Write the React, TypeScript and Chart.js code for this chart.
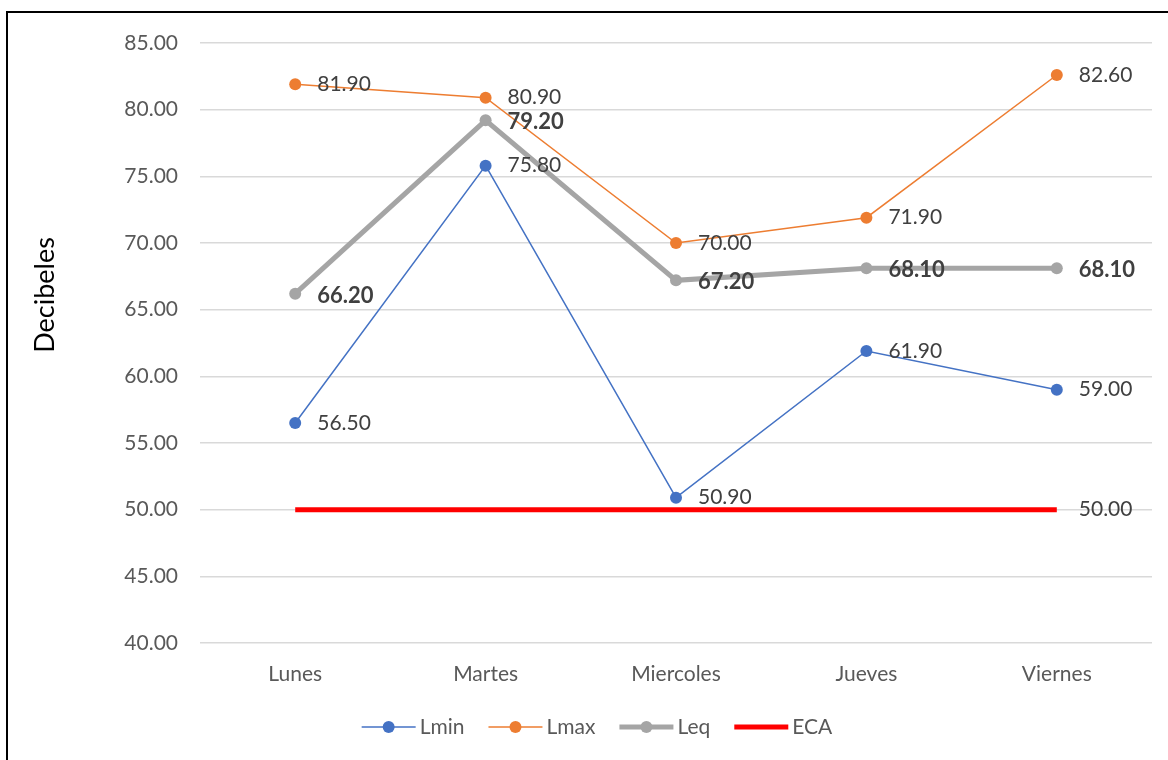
import React, { useEffect, useRef } from "react";
import { Chart, registerables } from "chart.js";

Chart.register(...registerables);

// Days of the week measured
const days = ["Lunes", "Martes", "Miercoles", "Jueves", "Viernes"];

// Sound levels in decibels
const lminValues = [56.5, 75.8, 50.9, 61.9, 59.0];
const lmaxValues = [81.9, 80.9, 70.0, 71.9, 82.6];
const leqValues = [66.2, 79.2, 67.2, 68.1, 68.1];
const ecaValues = [50.0, 50.0, 50.0, 50.0, 50.0];

const yMin = 40;
const yMax = 85;
const yStep = 5;

const FONT = "Lato, 'Open Sans', sans-serif";
const TEXT_GREY = "#595959";
const LABEL_GREY = "#404040";

// Frame around the chart
const framePlugin = {
  id: "frame",
  beforeDraw(chart: any) {
    const { ctx, width, height } = chart;
    ctx.save();
    ctx.fillStyle = "#ffffff";
    ctx.fillRect(0, 0, width, height);
    ctx.fillStyle = "#000000";
    ctx.fillRect(6, 11, 2, height - 11);
    ctx.fillRect(6, 11, width - 6, 2);
    ctx.restore();
  },
};

// Vertical axis title
const axisTitlePlugin = {
  id: "axisTitle",
  afterDraw(chart: any) {
    const { ctx } = chart;
    ctx.save();
    ctx.translate(45, 295);
    ctx.rotate(-Math.PI / 2);
    ctx.font = `27px ${FONT}`;
    ctx.fillStyle = "#000000";
    ctx.textAlign = "center";
    ctx.textBaseline = "middle";
    ctx.fillText("Decibeles", 0, 0);
    ctx.restore();
  },
};

// Value labels beside the points
const valueLabelPlugin = {
  id: "valueLabels",
  afterDatasetsDraw(chart: any) {
    const { ctx } = chart;
    ctx.save();
    chart.data.datasets.forEach((ds: any, i: number) => {
      const meta = chart.getDatasetMeta(i);
      const bold = !!ds.labelBold;
      ctx.font = `${bold ? "bold " : ""}${bold ? 22 : 21}px ${FONT}`;
      ctx.fillStyle = LABEL_GREY;
      ctx.textAlign = "left";
      ctx.textBaseline = "middle";
      meta.data.forEach((pt: any, j: number) => {
        if (ds.labelLastOnly && j !== meta.data.length - 1) return;
        const v = ds.data[j] as number;
        ctx.fillText(v.toFixed(2), pt.x + 22, pt.y + (bold ? 2 : 0));
      });
    });
    ctx.restore();
  },
};

// Legend along the bottom: line sample, marker, series name
const legendPlugin = {
  id: "bottomLegend",
  afterDraw(chart: any) {
    const { ctx } = chart;
    const sample = 54;
    const textGap = 4;
    const itemGap = 24;
    const centerX = 597;
    const y = 727;
    ctx.save();
    ctx.font = `21px ${FONT}`;
    const items = chart.data.datasets.map((ds: any) => ({
      ds,
      w: sample + textGap + ctx.measureText(ds.label).width,
    }));
    const total =
      items.reduce((s: number, it: any) => s + it.w, 0) + itemGap * (items.length - 1);
    let x = centerX - total / 2;
    items.forEach(({ ds, w }: any) => {
      ctx.strokeStyle = ds.borderColor;
      ctx.lineWidth = ds.borderWidth;
      ctx.beginPath();
      ctx.moveTo(x, y);
      ctx.lineTo(x + sample, y);
      ctx.stroke();
      if (ds.pointRadius > 0) {
        ctx.fillStyle = ds.pointBackgroundColor;
        ctx.beginPath();
        ctx.arc(x + sample / 2, y, ds.pointRadius, 0, Math.PI * 2);
        ctx.fill();
      }
      ctx.fillStyle = TEXT_GREY;
      ctx.textAlign = "left";
      ctx.textBaseline = "middle";
      ctx.fillText(ds.label, x + sample + textGap, y);
      x += w + itemGap;
    });
    ctx.restore();
  },
};

export default function App() {
  const canvasRef = useRef<HTMLCanvasElement | null>(null);

  useEffect(() => {
    const canvas = canvasRef.current;
    if (!canvas) return;
    const chart = new Chart(canvas, {
      type: "line",
      data: {
        labels: days,
        datasets: [
          {
            label: "Lmin",
            data: lminValues,
            borderColor: "#4472C4",
            backgroundColor: "#4472C4",
            pointBackgroundColor: "#4472C4",
            pointBorderColor: "#4472C4",
            borderWidth: 1.5,
            pointRadius: 6,
            pointBorderWidth: 0,
            order: 3,
          } as any,
          {
            label: "Lmax",
            data: lmaxValues,
            borderColor: "#ED7D31",
            backgroundColor: "#ED7D31",
            pointBackgroundColor: "#ED7D31",
            pointBorderColor: "#ED7D31",
            borderWidth: 1.5,
            pointRadius: 6,
            pointBorderWidth: 0,
            order: 2,
          },
          {
            label: "Leq",
            data: leqValues,
            borderColor: "#A5A5A5",
            backgroundColor: "#A5A5A5",
            pointBackgroundColor: "#A5A5A5",
            pointBorderColor: "#A5A5A5",
            borderWidth: 5,
            pointRadius: 6,
            pointBorderWidth: 0,
            labelBold: true,
            order: 1,
          },
          {
            label: "ECA",
            data: ecaValues,
            borderColor: "#FF0000",
            backgroundColor: "#FF0000",
            pointBackgroundColor: "#FF0000",
            borderWidth: 5,
            pointRadius: 0,
            labelLastOnly: true,
            order: 0,
          },
        ] as any,
      },
      options: {
        responsive: false,
        animation: false,
        layout: { padding: { left: 0, right: 16, top: 43, bottom: 0 } },
        plugins: {
          legend: { display: false },
          tooltip: { enabled: false },
          title: { display: false },
        },
        elements: { line: { tension: 0 } },
        scales: {
          x: {
            type: "category",
            offset: true,
            grid: { display: false },
            border: { display: false },
            ticks: {
              color: TEXT_GREY,
              font: { family: FONT, size: 21 },
              padding: 11,
              maxRotation: 0,
            },
            afterFit(scale: any) {
              scale.height = 117;
            },
          },
          y: {
            min: yMin,
            max: yMax,
            grid: { color: "#D9D9D9", lineWidth: 1.5, drawTicks: false },
            border: { display: false },
            ticks: {
              stepSize: yStep,
              color: TEXT_GREY,
              font: { family: FONT, size: 21 },
              padding: 22,
              callback: (v: any) => Number(v).toFixed(2),
            },
            afterFit(scale: any) {
              scale.width = 200;
            },
          },
        },
      },
      plugins: [framePlugin, axisTitlePlugin, valueLabelPlugin, legendPlugin],
    });
    return () => chart.destroy();
  }, []);

  return (
    <div style={{ position: "absolute", left: 0, top: 0, width: 1168, height: 760 }}>
      <canvas ref={canvasRef} width={1168} height={760} />
    </div>
  );
}
